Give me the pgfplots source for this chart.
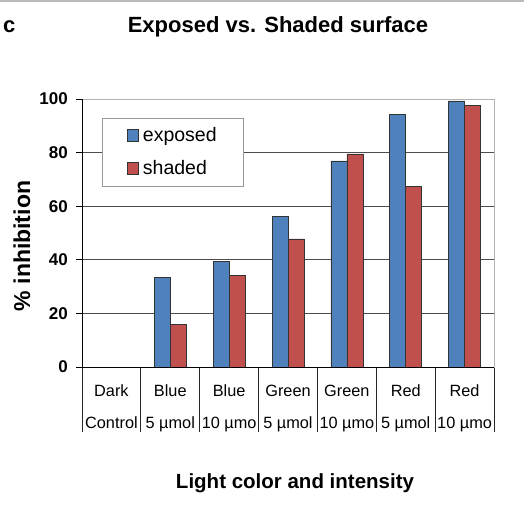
\documentclass[border=0pt]{standalone}
\usepackage{fontspec}
\setmainfont{Liberation Sans}
\usepackage{pgfplots}
\pgfplotsset{compat=1.18}
\definecolor{barblue}{RGB}{79,129,189}
\definecolor{barred}{RGB}{192,80,77}
\begin{document}
\begin{tikzpicture}[x=1pt,y=1pt]
\path[use as bounding box] (0,0) rectangle (524,-504);
\draw[gray!55, line width=1.5pt] (0,-1.2) -- (524,-1.2);
\begin{axis}[
  at={(82pt,-367pt)}, anchor=south west,
  scale only axis, width=412pt, height=268pt,
  xmin=-0.5, xmax=6.5, ymin=0, ymax=100,
  ybar=0pt, bar width=16pt,
  axis line style={gray!60, line width=0.9pt},
  xtick={0,...,6},
  xticklabels={{Dark\\Control},{Blue\\5 µmol},{Blue\\10 µmo},{Green\\5 µmol},{Green\\10 µmo},{Red\\5 µmol},{Red\\10 µmo}},
  major x tick style={draw=none},
  minor xtick={-0.5,0.5,...,6.5},
  minor tick length=65pt,
  minor tick style={black!85, line width=0.9pt},
  x tick label style={align=center, font=\fontsize{16.3}{32}\selectfont, anchor=north, inner sep=0pt, yshift=-11.5pt},
  ytick={0,20,...,100},
  major tick length=6pt,
  major y tick style={black, line width=0.9pt},
  tick align=outside,
  xtick pos=bottom, ytick pos=left,
  ymajorgrids,
  grid style={black!70, line width=0.9pt},
  y tick label style={font=\bfseries\fontsize{17}{17}\selectfont, inner sep=0pt, xshift=-8pt},
  /pgf/number format/assume math mode=true,
  legend image code/.code={\draw[#1, line width=0.7pt] (0pt,-6pt) rectangle (11pt,6pt);},
  legend style={at={(0.048,0.930)}, anchor=north west, draw=gray!80, line width=0.9pt,
    font=\fontsize{19.5}{20}\selectfont, inner xsep=25pt, inner ysep=6.5pt, row sep=11pt, column sep=2pt,
    nodes={text height=15pt, text depth=3pt}},
  legend cell align=left,
]
\addplot[fill=barblue, draw=black!80, line width=0.7pt] coordinates {
  (1,33.5) (2,39.5) (3,56.1) (4,76.9) (5,94.2) (6,99.3)};
\addplot[fill=barred, draw=black!80, line width=0.7pt] coordinates {
  (1,16.0) (2,34.2) (3,47.8) (4,79.5) (5,67.5) (6,97.5)};
\legend{exposed,shaded}
\draw[black, line width=0.9pt] (rel axis cs:0,0) -- (rel axis cs:0,1);
\draw[black, line width=0.9pt] (rel axis cs:0,0) -- (rel axis cs:1,0);
\end{axis}
\node[font=\bfseries\fontsize{22}{22}\selectfont] at (278,-27) {Exposed vs. Shaded surface};
\node[font=\bfseries\fontsize{22}{22}\selectfont, anchor=west, inner sep=0pt] at (3,-27) {c};
\node[rotate=90, font=\bfseries\fontsize{23}{23}\selectfont] at (22,-246) {\% inhibition};
\node[font=\bfseries\fontsize{20.5}{20.5}\selectfont] at (295,-483) {Light color and intensity};
\end{tikzpicture}
\end{document}
